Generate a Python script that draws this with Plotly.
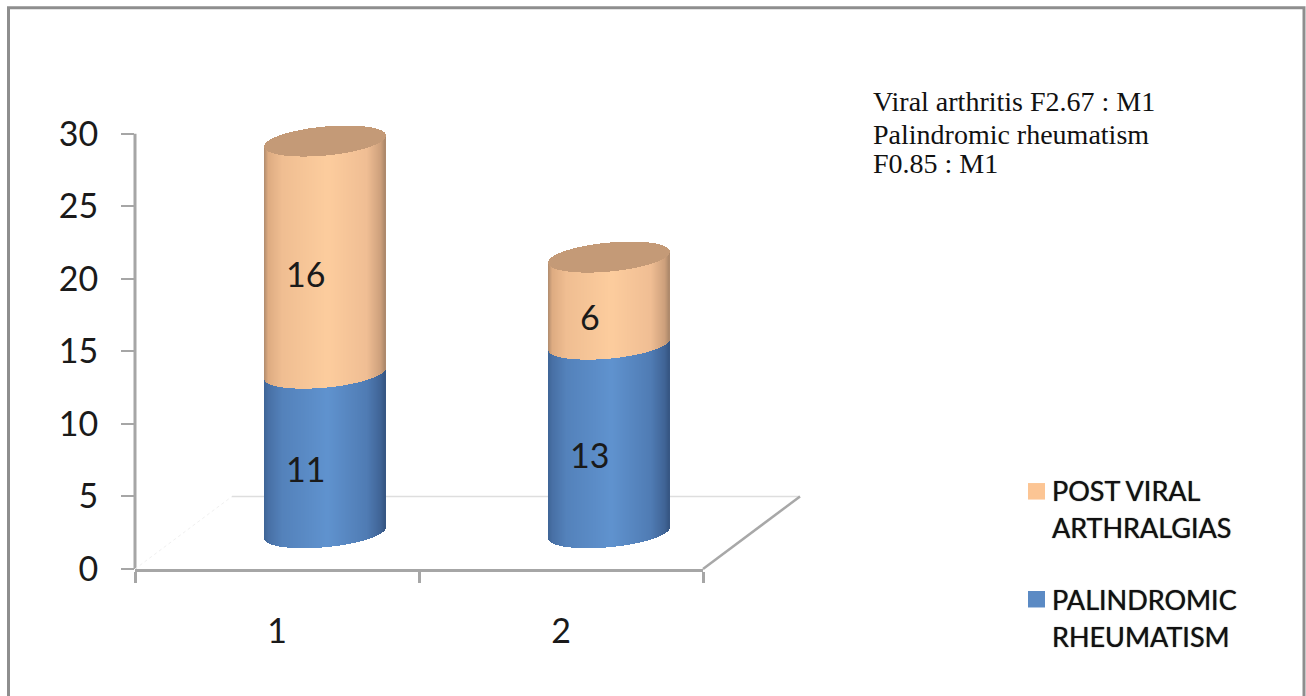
import numpy as np
import plotly.graph_objects as go

# Chart data
categories = [1, 2]
palindromic = [11, 13]
post_viral = [16, 6]
y_ticks = [0, 5, 10, 15, 20, 25, 30]
legend_lines = ["POST VIRAL", "ARTHRALGIAS", "PALINDROMIC", "RHEUMATISM"]
note_lines = ["Viral arthritis F2.67 : M1", "Palindromic rheumatism", "F0.85 : M1"]

# Plot geometry, in pixels
W, H = 1306, 696
LEFT, RIGHT, BOTTOM = 135, 703, 569
SLOT = (RIGHT - LEFT) / 2
UNIT = (BOTTOM - 133.5) / 30
Y_MAX = 31.5  # headroom so the cylinder cap above 30 stays visible
TOP = BOTTOM - Y_MAX * UNIT

# Oblique floor: how far the back edge sits from the front edge
DEPTH_X = 97 / SLOT
DEPTH_Y = 5.0

# Cylinder shape, in pixels, converted to axis units
HALF_W = 60.5
MINOR = 14.5
TILT = 5.5
n_slices = int(2 * HALF_W)
u = (np.arange(n_slices) + 0.5) / n_slices * 2 - 1
arc = np.sqrt(1 - u ** 2)
front = (TILT * u - MINOR * arc) / UNIT
back = (TILT * u + MINOR * arc) / UNIT

# Horizontal shading across the cylinder wall
stops = [-1.0, -0.93, -0.7, 0.05, 0.7, 0.93, 1.0]
orange_stops = [(176, 140, 110), (222, 172, 130), (240, 190, 146), (253, 205, 158),
                (240, 190, 148), (205, 160, 124), (172, 136, 106)]
blue_stops = [(62, 100, 150), (72, 112, 165), (84, 130, 187), (96, 147, 207),
              (80, 124, 180), (64, 100, 150), (54, 86, 130)]
CAP = "#c49a77"


def shade(palette):
    channels = np.array(palette).T
    return ["rgb(%d,%d,%d)" % tuple(np.interp(t, stops, c) for c in channels) for t in u]


def segment(values, below, palette, name):
    xs, bases, heights, colors = [], [], [], []
    tone = shade(palette)
    for cat, v, b in zip(categories, values, below):
        xs.extend(cat + DEPTH_X / 2 + u * HALF_W / SLOT)
        bases.extend(DEPTH_Y / 2 + b + front)
        heights.extend([v] * n_slices)
        colors.extend(tone)
    return go.Bar(x=xs, y=heights, base=bases, width=1.1 * 2 * HALF_W / n_slices / SLOT,
                  marker=dict(color=colors, line=dict(width=0)), name=name,
                  cliponaxis=False, showlegend=False, hoverinfo="skip")


totals = [a + b for a, b in zip(palindromic, post_viral)]
fig = go.Figure()
fig.add_trace(segment(palindromic, [0, 0], blue_stops, "PALINDROMIC RHEUMATISM"))
fig.add_trace(segment(post_viral, palindromic, orange_stops, "POST VIRAL ARTHRALGIAS"))

# Top caps of the cylinders
cap_x, cap_base, cap_h = [], [], []
for cat, total in zip(categories, totals):
    cap_x.extend(cat + DEPTH_X / 2 + u * HALF_W / SLOT)
    cap_base.extend(DEPTH_Y / 2 + total + front)
    cap_h.extend(back - front)
fig.add_trace(go.Bar(x=cap_x, y=cap_h, base=cap_base,
                     width=1.1 * 2 * HALF_W / n_slices / SLOT,
                     marker=dict(color=CAP, line=dict(width=0)), cliponaxis=False,
                     showlegend=False, hoverinfo="skip"))


def px(x):
    return (x - LEFT) / (RIGHT - LEFT)


def py(y):
    return (BOTTOM - y) / (BOTTOM - TOP)


def floor_x(v):
    return px(LEFT + (v - 0.5) * SLOT)


def floor_y(v):
    return v / Y_MAX


axis_color = "#a6a6a6"
shapes = [
    # Chart frame
    dict(type="rect", xref="paper", yref="paper", x0=px(8.5), x1=px(1304), y0=py(7.5), y1=py(699),
         line=dict(color="#8e8e8e", width=3), layer="below"),
    # Vertical axis, stopping at the top tick
    dict(type="line", xref="paper", yref="paper", x0=0, x1=0, y0=floor_y(0), y1=floor_y(30),
         line=dict(color=axis_color, width=3), layer="below"),
    # Floor outline
    dict(type="line", xref="paper", yref="paper", x0=floor_x(0.5 + DEPTH_X), x1=floor_x(2.5 + DEPTH_X),
         y0=floor_y(DEPTH_Y), y1=floor_y(DEPTH_Y), line=dict(color="#dedede", width=1.5), layer="below"),
    dict(type="line", xref="paper", yref="paper", x0=floor_x(2.5), x1=floor_x(2.5 + DEPTH_X),
         y0=0, y1=floor_y(DEPTH_Y), line=dict(color="#a8a8a8", width=2.5), layer="below"),
    dict(type="line", xref="paper", yref="paper", x0=floor_x(0.5), x1=floor_x(0.5 + DEPTH_X),
         y0=0, y1=floor_y(DEPTH_Y), line=dict(color="#f0f0f0", width=1, dash="dot"), layer="below"),
    # Legend swatches
    dict(type="rect", xref="paper", yref="paper", x0=px(1028), x1=px(1045), y0=py(483), y1=py(499.5),
         fillcolor="#fcc594", line=dict(width=0)),
    dict(type="rect", xref="paper", yref="paper", x0=px(1028), x1=px(1045), y0=py(591), y1=py(607.5),
         fillcolor="#5b8ac4", line=dict(width=0)),
]

LABEL_FONT = dict(family="Lato", size=34, color="#1a1a1a")
annotations = []
for cat, low, high in zip(categories, palindromic, post_viral):
    for value, mid in ((low, low / 2), (high, low + high / 2)):
        annotations.append(dict(x=cat + DEPTH_X / 2, y=DEPTH_Y / 2 + mid, text=str(value),
                                showarrow=False, xshift=-20, yshift=-16, font=LABEL_FONT))

# Series key
for line, y_px in zip(legend_lines, (490, 527, 600, 637)):
    annotations.append(dict(xref="paper", yref="paper", x=px(1050), y=py(y_px), text=line,
                            showarrow=False, xanchor="left", yanchor="middle", align="left",
                            font=dict(family="Lato", size=27, color="#111111",
                                      shadow="0 0 1px #333333")))

# Ratio note in the upper right corner
for line, y_px in zip(note_lines, (101, 134, 163)):
    annotations.append(dict(xref="paper", yref="paper", x=px(871), y=py(y_px), text=line,
                            showarrow=False, xanchor="left", yanchor="middle",
                            font=dict(family="Liberation Serif", size=28, color="#111111")))

fig.update_layout(
    width=W, height=H, autosize=False, barmode="overlay", bargap=0,
    margin=dict(l=LEFT, r=W - RIGHT, t=TOP, b=H - BOTTOM, autoexpand=False),
    paper_bgcolor="white", plot_bgcolor="white", showlegend=False,
    shapes=shapes, annotations=annotations,
    xaxis=dict(range=[0.5, 2.5], tickvals=categories, ticktext=[str(c) for c in categories],
               ticks="", showgrid=False, zeroline=False, showline=True, linecolor=axis_color,
               linewidth=3, ticklabelstandoff=30, tickfont=LABEL_FONT,
               minor=dict(tickvals=[0.5, 1.5, 2.5], ticks="outside", ticklen=11, tickwidth=3,
                          tickcolor=axis_color, showgrid=False)),
    yaxis=dict(range=[0, Y_MAX], tickvals=y_ticks, ticks="outside", ticklen=13, tickwidth=2,
               tickcolor=axis_color, showgrid=False, zeroline=False, showline=False,
               tickfont=LABEL_FONT, ticklabelstandoff=16),
)

fig.write_html("out.html", config=dict(displayModeBar=False))
